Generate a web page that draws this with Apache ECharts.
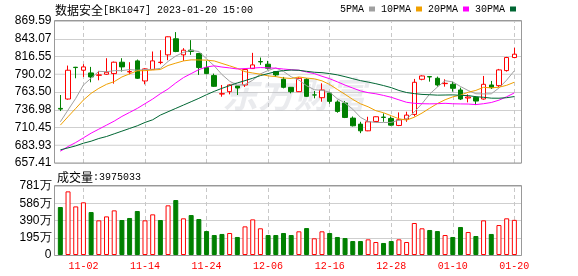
<!DOCTYPE html>
<html><head><meta charset="utf-8">
<script src="https://cdn.jsdelivr.net/npm/echarts@6/dist/echarts.min.js"></script>
<style>html,body{margin:0;padding:0;background:#fff}#c{width:578px;height:276px}</style>
</head><body><div id="c"></div>
<script>
const dates = ['10-28','10-31','11-01','11-02','11-03','11-04','11-07','11-08','11-09','11-10','11-11','11-14','11-15','11-16','11-17','11-18','11-21','11-22','11-23','11-24','11-25','11-28','11-29','11-30','12-01','12-02','12-05','12-06','12-07','12-08','12-09','12-12','12-13','12-14','12-15','12-16','12-19','12-20','12-21','12-22','12-23','12-26','12-27','12-28','12-29','12-30','01-03','01-04','01-05','01-06','01-09','01-10','01-11','01-12','01-13','01-16','01-17','01-18','01-19','01-20'];
const opens = [739,753,800.5,796,792,788.5,790,791,808,793.5,810,780,797,807.5,819,843,819,826,821,800,788,760.5,764,772.5,774,798.5,809,805,794,782.5,770.5,764,782.5,759.2,755,762,748.5,747,724.5,715.5,705.5,719.5,726,724,713.5,723,730,782.5,786.5,784,776,775,766.5,754.5,755.5,753,774,773,795.5,815];
const closes = [738,796,800,801,786,789,793,808,801,794,784,798,810,808,846,824,826,824,800,791,772,761,774,769.5,797,804,808.5,799,789,770.5,764,784,757,759,766.5,749.5,734.5,725.5,713,705.5,719,726.5,725.5,714,722,729,778,787.5,786,774,776.5,769,753,756,750,775,770,796.5,815,820];
const lows = [735,752,784,786,778,781,789,776,794,790,783,775,796.5,805,811,823,810,819,789,790,771,756.5,760,759,771,798,804,797,786,769,761.5,763.5,756,754,749,746,732.5,724.5,712,702,705,719,719,713,712.5,719,727,781,779,771.5,771.5,764,751.5,748,744,752,768,771,794,814];
const highs = [759,803,801,805,801,795,814,809,814,808,812,799,824,826,846.5,853,829,841,822,810,791,774,775,773,798,822,815,810,794.5,786,771,785.5,784,765,776.5,763,751,750,727,719,726.5,727,731.5,727,733,734,783,788.5,787,786.5,782.5,779,770,760,757,787.5,780,798,816,829.5];
const ma5 = [719,736.6,754,774,784.2,794.4,793.8,795.4,795.4,797,796,797,797.4,798.8,809.2,817.2,822.8,825.6,824,813,802.6,789.6,779.6,773.5,774.7,781.1,790.6,795.6,799.5,794.2,786.2,781.3,772.9,766.9,766.1,763.2,753.3,747,737.8,725.6,719.5,717.9,717.9,718.1,721.4,723.4,733.7,746.1,760.5,770.9,780.4,778.6,771.7,765.7,760.9,760.6,760.8,769.5,781.3,795.3];
const ma10 = [714,726.6,739,751.5,761.5,769,775,779,786,790.6,795.2,795.4,796.4,797.1,803.1,806.6,809.9,811.5,811.4,811.1,809.9,806.2,802.6,798.8,793.9,791.9,790.1,787.6,786.5,784.5,783.7,786,784.3,783.2,780.2,774.7,767.3,760,752.4,745.9,741.4,735.6,732.5,728,723.5,721.5,725.8,732,739.3,746.2,751.9,756.2,758.9,763.1,765.9,770.5,769.7,770.6,773.5,778.1];
const ma20 = [675,682,688,695,702,708,714,720,727,733,739,746,753,761,768,777,785,791,797,800.9,802.6,800.8,799.5,797.9,798.5,799.2,800,799.6,799,797.8,796.8,796.1,793.4,791,787,783.3,778.7,773.8,769.4,765.2,762.5,760.8,758.4,755.6,751.8,748.1,746.6,746,745.8,746,746.6,745.9,745.7,745.5,744.7,746,747.8,751.3,756.4,762.1];
const ma30 = [677,680,683,687,690,694,697,701,705,709,713,718,722,729,734,739,744,749,754,759.5,764.5,769,773,777,780.5,784,788,791,794,795.4,796.3,795.9,794.4,793,792.4,791,789.1,786.4,783.4,780.5,778.3,775.9,773.1,770,765.8,762.7,761.1,759.9,759.4,758.8,759,759.2,758.5,758.1,756.5,755.6,754.3,754.2,755,756.7];
const volumes = [5430000,7200000,5500000,5960000,4860000,3920000,4370000,5050000,3960000,4190000,4980000,3920000,4600000,3960000,5620000,6220000,4150000,4520000,4070000,2710000,2260000,2380000,2490000,2040000,3240000,4030000,3020000,2260000,2260000,2490000,2260000,2680000,3050000,1890000,2680000,2490000,2040000,1920000,1580000,1580000,1770000,1470000,1360000,1580000,1770000,1470000,3620000,3020000,2830000,2710000,2260000,2040000,3170000,2600000,2150000,3920000,2380000,3390000,4150000,3975033];
const volUp = [0,1,1,1,0,1,1,1,0,0,0,1,1,0,1,0,1,0,0,0,0,0,1,0,1,1,1,0,0,0,0,1,0,1,1,0,0,0,0,0,1,1,0,0,1,1,1,1,0,0,1,0,0,1,0,1,0,1,1,1];
const priceTickLabels = ['657.41','683.93','710.45','736.98','763.50','790.02','816.55','843.07','869.59'];
const volTickLabels = ['0','195万','390万','586万','781万'];
const maNames = ['5PMA','10PMA','20PMA','30PMA'];
const maColors = ['#a0a0a0','#f0a000','#ff00ff','#006633'];

const RED = '#ff0000', GREEN = '#008000';
const candleData = dates.map((d, i) => [opens[i], closes[i], lows[i], highs[i]]);
const volData = volumes.map((v, i) => ({
  value: v,
  itemStyle: volUp[i] ? { color: '#ffffff', borderColor: RED, borderWidth: 1 } : { color: GREEN, borderColor: GREEN, borderWidth: 1 }
}));
const labelPick = (i) => i % 8 === 3;
const MONO = '"Liberation Mono", "DejaVu Sans Mono", monospace';
const CJK = '"Noto Sans CJK SC", sans-serif';

const chart = echarts.init(document.getElementById('c'), null, { renderer: 'canvas' });
const maSeries = [ma5, ma10, ma20, ma30].map((arr, k) => ({
  name: maNames[k], type: 'line', data: arr, xAxisIndex: 0, yAxisIndex: 0,
  symbol: 'none', showSymbol: false, smooth: false, z: 4,
  lineStyle: { width: 1, color: maColors[k] }, itemStyle: { color: maColors[k] }
}));
const richTitle = {
  a: { fontFamily: CJK, fontSize: 12, fontWeight: 'normal', color: '#000', lineHeight: 14 },
  b: { fontFamily: MONO, fontSize: 10, fontWeight: 'normal', color: '#000', lineHeight: 14 }
};

chart.setOption({
  animation: false,
  backgroundColor: '#fff',
  title: [
    { text: '{a|数据安全}{b|[BK1047] 2023-01-20 15:00}', left: 55, top: 3, padding: 0,
      textStyle: { fontWeight: 'normal', rich: richTitle } },
    { text: '{a|成交量}{b|:3975033}', left: 57, top: 170, padding: 0,
      textStyle: { fontWeight: 'normal', rich: richTitle } }
  ],
  legend: {
    data: maNames, left: 340, top: 4, align: 'right', icon: 'rect', itemWidth: 6, itemHeight: 5, itemGap: 6, padding: 0,
    textStyle: { fontFamily: MONO, fontSize: 10, fontWeight: 'normal', color: '#000', padding: 0 }, selectedMode: false
  },
  grid: [
    { left: 56.5, top: 21, width: 461.7, height: 142 },
    { left: 56.5, top: 186, width: 461.7, height: 69 }
  ],
  xAxis: [
    { type: 'category', gridIndex: 0, data: dates, boundaryGap: true,
      axisLine: { show: false }, axisLabel: { show: false },
      axisTick: { show: true, alignWithLabel: true, inside: true, length: 142, interval: labelPick, lineStyle: { color: '#c8c8c8', type: [4, 3] } },
      splitLine: { show: false } },
    { type: 'category', gridIndex: 1, data: dates, boundaryGap: true,
      axisLine: { show: false },
      axisLabel: { show: true, interval: labelPick, color: RED, fontFamily: MONO, fontSize: 10, margin: 6 },
      axisTick: { show: true, alignWithLabel: true, inside: true, length: 69, interval: labelPick, lineStyle: { color: '#c8c8c8', type: [4, 3] } },
      splitLine: { show: false } }
  ],
  yAxis: [
    { type: 'value', gridIndex: 0, min: 657.41, max: 869.59, interval: 26.5225, offset: 2, scale: true,
      axisLine: { show: false }, splitLine: { show: false },
      axisTick: { show: true, inside: true, length: 467, lineStyle: { color: '#cfcfcf' } },
      axisLabel: { margin: 3, color: '#000', fontFamily: '"Liberation Sans", Arial, sans-serif', fontSize: 12,
        formatter: (v, i) => priceTickLabels[i] !== undefined ? priceTickLabels[i] : '' } },
    { type: 'value', gridIndex: 1, min: 0, max: 7808000, interval: 1952000, offset: 2,
      axisLine: { show: false }, splitLine: { show: false },
      axisTick: { show: true, inside: true, length: 467, lineStyle: { color: '#cfcfcf' } },
      axisLabel: { margin: 3, color: '#000', fontFamily: '"Liberation Sans", Arial, sans-serif', fontSize: 12,
        formatter: (v, i) => volTickLabels[i] !== undefined ? volTickLabels[i] : '' } }
  ],
  graphic: [
    { type: 'text', left: 222, top: 76, z: 1, silent: true,
      style: { text: '东方财富', font: 'italic bold 36px "Noto Sans CJK SC"', fill: 'rgba(185,190,200,0.30)' } },
    { type: 'rect', z: 10, silent: true, shape: { x: 54.5, y: 20.5, width: 467, height: 142.5 },
      style: { fill: 'none', stroke: '#999', lineWidth: 1 } },
    { type: 'rect', z: 10, silent: true, shape: { x: 54.5, y: 185.5, width: 467, height: 70 },
      style: { fill: 'none', stroke: '#999', lineWidth: 1 } }
  ],
  series: [
    { name: 'K', type: 'candlestick', data: candleData, xAxisIndex: 0, yAxisIndex: 0, barWidth: 5, z: 3,
      itemStyle: { color: '#ffffff', color0: GREEN, borderColor: RED, borderColor0: GREEN, borderWidth: 1 } },
    ...maSeries,
    { name: 'VOL', type: 'bar', data: volData, xAxisIndex: 1, yAxisIndex: 1, barWidth: 5, z: 3 }
  ]
});
</script></body></html>
